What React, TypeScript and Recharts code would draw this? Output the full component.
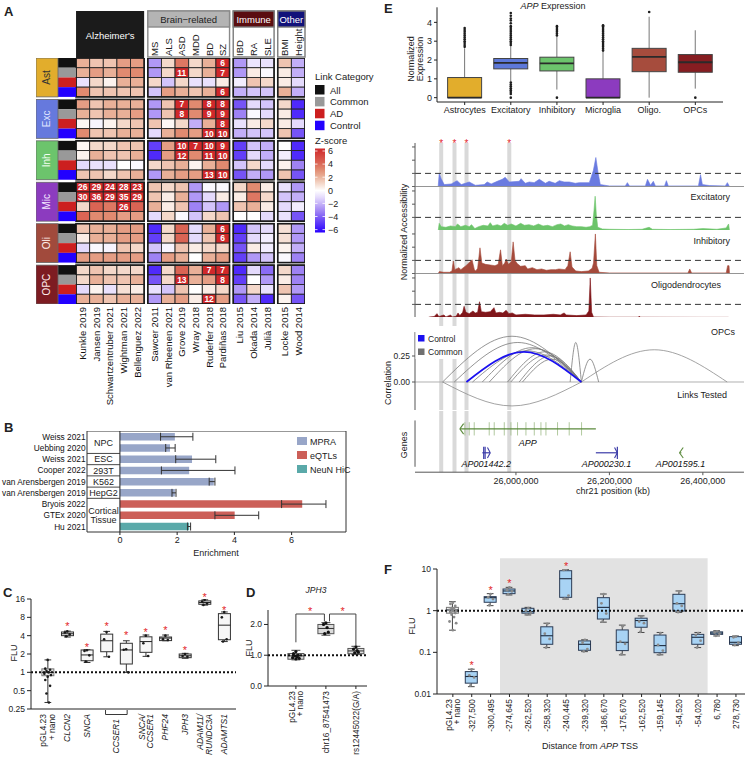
import React from 'react';
import {
  ScatterChart, Scatter, XAxis, YAxis, ComposedChart, Bar, BarChart, Cell, ErrorBar,
  ReferenceLine, ReferenceArea, ReferenceDot, AreaChart, Area, LineChart, Line,
} from 'recharts';

const FONT = '"Liberation Sans", Arial, Helvetica, sans-serif';
const INK = '#222';
const STAR = '#e3262b';

// ---------------- A: GWAS enrichment heatmap ----------------
const adStudies = ['Kunkle 2019', 'Jansen 2019', 'Schwartzentruber 2021', 'Wightman 2021', 'Bellenguez 2022'];
const brainStudies = ['Sawcer 2011', 'van Rheenen 2021', 'Grove 2019', 'Wray 2018', 'Ruderfer 2018', 'Pardiñas 2018'];
const immuneStudies = ['Liu 2015', 'Okada 2014', 'Julià 2018'];
const otherStudies = ['Locke 2015', 'Wood 2014'];
const traits = ['', '', '', '', '', 'MS', 'ALS', 'ASD', 'MDD', 'BD', 'SZ', 'IBD', 'RA', 'SLE', 'BMI', 'Height'];
const cellTypes = ['Ast', 'Exc', 'Inh', 'Mic', 'Oli', 'OPC'];
const linkCats = ['All', 'Common', 'AD', 'Control'];
const allStudies = [...adStudies, ...brainStudies, ...immuneStudies, ...otherStudies];

// rows: cell type x (All, Common, AD, Control); columns: studies
const zScores: number[][] = [
  [2, 1.5, 1.5, 2.5, 2.5, -2.5, 1, 3.5, 1, 2, 6, -2.5, -0.7, -0.8, 1.5, -2],
  [2, 2.5, 2, 3, 3, -2.5, 1, 11, 1, 2, 7, -2.5, 0.5, -0.2, 0.5, -2],
  [-0.8, 1, 0.3, 2, 2, 1, -1.5, 1, -0.8, -0.8, 0.5, -0.5, 1.5, 1, 0.5, -1],
  [3, 1.5, 1.5, 1.5, 1.5, -1.5, 2.5, 2, 1.5, 2, 6, -2, -1.5, -1.5, 2, -2],
  [2.5, 1.5, 2, 2, 2, -2.5, 1.5, 7, 3, 8, 8, -4, -1, -1.5, 1, -5],
  [2, 1.5, 2, 2, 2.5, -2.5, 1.5, 8, 3, 9, 9, -3, -0.2, -1, 0.5, -5],
  [0.2, -0.3, 0.3, 1, 1.5, 1.5, 0.2, 1, -2, 2, 8, -0.8, 0.5, 1, 0.5, -1],
  [3, 1.5, 1.5, 2, 2, -1, 2, 3, 2.5, 10, 10, -2, -1.5, -1.5, 1.5, -4],
  [0.2, 1, 1, 1.5, 1.5, -4.5, 2.5, 10, 7, 10, 9, -4.5, -1.5, -2, 0, -5],
  [0.3, 2, 1.5, 1.5, 2, -5, 2.5, 12, 3, 11, 10, -4.5, -1, -2, -0.5, -5],
  [-1, -0.8, -0.8, 0, -0.2, 1, 1.5, 2, 0.3, 2, 3, -1.5, 1, -1, 0.3, -3],
  [1.5, 1.5, 1, 1.5, 2, -2.5, 2, 2.5, 2.5, 13, 10, -4, -2, -2.5, 1.5, -4],
  [26, 29, 24, 28, 23, 1.5, 1, 1.5, -2.5, -0.2, -0.2, 1, 3, 0.5, -0.8, -2.5],
  [30, 36, 29, 35, 29, 1.5, 0.5, 2, -2.5, -1, 0.5, 0.5, 3.5, 1, -1.5, -2],
  [1, 4, 3.5, 26, 4, 2, 0.5, 1.5, -3, -1.5, -2.5, 1.5, 2, 0.5, -1, -0.5],
  [4, 3, 3, 2.5, 2.5, -1, 1, -0.2, -1.5, 1, 1.5, 0, 0, -1, -0.8, -4],
  [1.5, 2, 2, 2.5, 2.5, -5, 1, 4, -1, 2, 6, -5, -1.5, -1, 0.8, -2.5],
  [0.5, 2, 2, 2.5, 2.5, -4.5, 1, 4, -1, 1.5, 6, -4.5, -1, -0.5, 0.8, -2.5],
  [-1, -0.2, -0.3, 1.5, 1, -1.5, -0.3, 1.5, 0.5, 1, 1, -4, 0.5, -0.5, 0.3, -2],
  [2.5, 2.5, 2.5, 2.5, 2.5, -3, 2.5, 2, 0, 2, 2.5, -4.5, -2.5, -1.5, -0.2, -3],
  [1, 1.5, 1, 1, 1, -5, 1, 4, 2, 7, 7, -5, -1, -3.5, 1, -3],
  [1, 2, 1.5, 1.5, 2, -4, 1, 13, 2, 2.5, 8, -4.5, 0, -2.5, 0.5, -3],
  [-1, 0.3, -0.8, 0.8, 0.5, -0.8, -1.5, 1.5, 0, 0.5, 1, -2.5, 1, -0.8, 1.5, -2.5],
  [2, 2, 1.5, 2, 2, -2.5, 2, 2.5, 0.5, 12, 2.5, -4, -2, -5, 0.3, -4],
];

const typeColors = ['#e2ad2c', '#6679dd', '#6cc46c', '#8c3bbf', '#a14a3c', '#7d1c22'];
const typeText = ['#333', '#dfe3ff', '#f4fff4', '#f4e8ff', '#fff0ec', '#ffecec'];
const linkColors = ['#111111', '#999999', '#cc1f1f', '#2200ff'];

const posStops: [number, number[]][] = [[0, [255, 255, 255]], [1, [244, 216, 202]], [2, [233, 176, 152]], [3, [225, 138, 112]], [4, [218, 100, 84]], [6, [208, 40, 42]]];
const negStops: [number, number[]][] = [[0, [255, 255, 255]], [1, [228, 218, 252]], [2, [194, 174, 248]], [3, [158, 130, 244]], [4, [118, 84, 246]], [6, [40, 0, 255]]];
const zColor = (z: number) => {
  const stops = z >= 0 ? posStops : negStops;
  const a = Math.min(6, Math.abs(z));
  for (let k = 1; k < stops.length; k++) {
    if (a <= stops[k][0]) {
      const [z0, c0] = stops[k - 1];
      const [z1, c1] = stops[k];
      const t = (a - z0) / (z1 - z0);
      const c = c0.map((v, j) => Math.round(v + (c1[j] - v) * t));
      return `rgb(${c[0]},${c[1]},${c[2]})`;
    }
  }
  const c = stops[stops.length - 1][1];
  return `rgb(${c[0]},${c[1]},${c[2]})`;
};

const A_LEFT = 36, A_TOP = 58, A_W = 269, A_H = 246;
const COL_GAP = 0.27, ROW_GAP = 0.26;
const X_MIN = -2.94, X_MAX = 16 + 3 * COL_GAP, Y_MAX = 24 + 5 * ROW_GAP;
const UX = A_W / (X_MAX - X_MIN), UY = A_H / Y_MAX;
const colGroupOf = (c: number) => (c < 5 ? 0 : c < 11 ? 1 : c < 14 ? 2 : 3);
const colX = (c: number) => c + 0.5 + COL_GAP * colGroupOf(c);
const rowY = (r: number) => r + 0.5 + ROW_GAP * Math.floor(r / 4);
const hx = (u: number) => A_LEFT + (u - X_MIN) * UX;
const colGroups = [[0, 4], [5, 10], [11, 13], [14, 15]];

const heatCells = zScores.flatMap((row, r) => row.map((z, c) => ({ x: colX(c), y: rowY(r), z })));
const heatBlocks = cellTypes.flatMap((_, g) => colGroups.map(([a, b]) => ({
  x: (colX(a) + colX(b)) / 2, y: (rowY(4 * g) + rowY(4 * g + 3)) / 2, n: b - a + 1,
})));
const linkCells = zScores.map((_, r) => ({ x: X_MIN + 31 / UX, y: rowY(r), r }));
const typeCells = cellTypes.map((name, g) => ({ x: X_MIN + 11 / UX, y: (rowY(4 * g) + rowY(4 * g + 3)) / 2, g }));
const studyTicks = allStudies.map((_, c) => colX(c));

const HeatCell = (p: any) => {
  const { cx, cy, payload } = p;
  return (
    <g>
      <rect x={cx - UX / 2} y={cy - UY / 2} width={UX} height={UY} fill={zColor(payload.z)} stroke="#262626" strokeWidth={0.9} />
      {payload.z >= 5.5 && (
        <text x={cx} y={cy + 3.2} textAnchor="middle" fontSize={8.5} fontWeight="bold" fill="#fff" fontFamily={FONT}>{Math.round(payload.z)}</text>
      )}
    </g>
  );
};
const BlockFrame = (p: any) => (
  <rect x={p.cx - (p.payload.n * UX) / 2} y={p.cy - 2 * UY} width={p.payload.n * UX} height={4 * UY} fill="none" stroke="#1a1a1a" strokeWidth={1.6} />
);
const LinkCell = (p: any) => (
  <rect x={p.cx - 9} y={p.cy - UY / 2} width={18} height={UY} fill={linkColors[p.payload.r % 4]} />
);
const TypeCell = (p: any) => {
  const { cx, cy, payload } = p;
  return (
    <g>
      <rect x={cx - 11} y={cy - 2 * UY} width={22} height={4 * UY} fill={typeColors[payload.g]} stroke="#666" strokeWidth={0.8} />
      <text x={cx + 3.5} y={cy} transform={`rotate(-90 ${cx + 3.5} ${cy})`} textAnchor="middle" fontSize={10} fill={typeText[payload.g]} fontFamily={FONT}>{cellTypes[payload.g]}</text>
    </g>
  );
};
const StudyTick = (p: any) => {
  const idx = studyTicks.findIndex((t) => Math.abs(t - p.payload.value) < 1e-6);
  const x = p.x + 3.4;
  return (
    <text x={x} y={p.y} transform={`rotate(-90 ${x} ${p.y})`} textAnchor="end" fontSize={9.5} fill="#111" fontFamily={FONT}>{allStudies[idx]}</text>
  );
};

// ---------------- B: enrichment bars ----------------
const enrichStudies = ['Weiss 2021', 'Uebbing 2020', 'Weiss 2021', 'Cooper 2022', 'van Arensbergen 2019', 'van Arensbergen 2019', 'Bryois 2022', 'GTEx 2020', 'Hu 2021'];
const enrichValues = [1.92, 1.75, 2.52, 2.42, 3.28, 1.92, 6.37, 4.01, 2.42];
const enrichLow = [1.42, 1.6, 1.95, 1.45, 3.12, 1.82, 5.65, 3.32, 2.36];
const enrichHigh = [2.55, 1.93, 3.35, 4.02, 3.32, 1.96, 7.2, 4.85, 2.47];
const enrichKinds = ['MPRA', 'MPRA', 'MPRA', 'MPRA', 'MPRA', 'MPRA', 'eQTLs', 'eQTLs', 'NeuN HiC'];
const enrichGroups = [['NPC'], ['ESC'], ['293T'], ['K562'], ['HepG2'], ['Cortical', 'Tissue']];
const enrichGroupSpan = [2, 1, 1, 1, 1, 3];
const kindNames = ['MPRA', 'eQTLs', 'NeuN HiC'];
const kindColors: Record<string, string> = { MPRA: '#98a6c8', eQTLs: '#cc5f58', 'NeuN HiC': '#5aa9a9' };
const enrichData = enrichValues.map((v, i) => ({ i, v, err: [v - enrichLow[i], enrichHigh[i] - v], kind: enrichKinds[i] }));
const B_TOP = 431, B_PLOT_H = 101;
const EnrichTick = (p: any) => (
  <text x={p.x} y={p.y + 3.2} textAnchor="end" fontSize={8.3} fill="#111" fontFamily={FONT}>{enrichStudies[p.payload.value]}</text>
);

// ---------------- shared box-plot helpers ----------------
const toBoxes = (wlo: number[], q1: number[], med: number[], q3: number[], whi: number[]) =>
  wlo.map((_, i) => ({ i, range: [wlo[i], whi[i]], wlo: wlo[i], q1: q1[i], med: med[i], q3: q3[i], whi: whi[i] }));
const toDots = (lists: number[][]) => lists.flatMap((vs, i) => vs.map((v, k) => ({ i, v, k })));
const JIT = [0, -2.4, 2.4, -1.2, 1.2, -3.3, 3.3];
const dotShape = (fill: string, r: number, jitter = true) => (p: any) => (
  <circle cx={p.cx + (jitter ? JIT[(p.payload?.k ?? 0) % 7] : 0)} cy={p.cy} r={r} fill={fill} />
);
type BoxOpts = { log: boolean; caps: boolean; fill: (i: number) => string; stroke: (i: number) => string; whisker: string; median: string; medW: number };
const makeBoxShape = (o: BoxOpts) => (p: any) => {
  const { x, y, width, height, payload } = p;
  if (!payload || !Number.isFinite(y) || !Number.isFinite(height)) return <g />;
  const t = (v: number) => (o.log ? Math.log(v) : v);
  const top = Math.min(y, y + height), bot = Math.max(y, y + height);
  const hi = t(payload.whi), lo = t(payload.wlo);
  const py = (v: number) => top + ((bot - top) * (hi - t(v))) / (hi - lo);
  const cx = x + width / 2;
  const yq1 = py(payload.q1), yq3 = py(payload.q3), ym = py(payload.med);
  const cw = width * 0.28;
  const i = payload.i;
  return (
    <g>
      <line x1={cx} x2={cx} y1={top} y2={yq3} stroke={o.whisker} strokeWidth={1} />
      <line x1={cx} x2={cx} y1={yq1} y2={bot} stroke={o.whisker} strokeWidth={1} />
      {o.caps && <line x1={cx - cw} x2={cx + cw} y1={top} y2={top} stroke={o.whisker} strokeWidth={1} />}
      {o.caps && <line x1={cx - cw} x2={cx + cw} y1={bot} y2={bot} stroke={o.whisker} strokeWidth={1} />}
      <rect x={x} y={yq3} width={width} height={Math.max(yq1 - yq3, 0.6)} fill={o.fill(i)} stroke={o.stroke(i)} strokeWidth={1} />
      <line x1={x} x2={x + width} y1={ym} y2={ym} stroke={o.median} strokeWidth={o.medW} />
    </g>
  );
};
const StarDot = (p: any) => (
  <text x={p.cx} y={p.cy + 6} textAnchor="middle" fontSize={11} fill={STAR} fontFamily={FONT}>*</text>
);
const rotTick = (labels: string[][], italics: boolean[], fs: number, lh: number) => (p: any) => {
  const idx = Math.round(p.payload.value);
  const lines = labels[idx] || [];
  return (
    <g>
      {lines.map((ln, k) => {
        const x = p.x + fs * 0.36 + (k - (lines.length - 1) / 2) * lh;
        return (
          <text key={k} x={x} y={p.y} transform={`rotate(-90 ${x} ${p.y})`} textAnchor="end" fontSize={fs} fontStyle={italics[idx] ? 'italic' : 'normal'} fill={INK} fontFamily={FONT}>{ln}</text>
        );
      })}
    </g>
  );
};

// ---------------- C: luciferase, candidate regions ----------------
const cLabels = [['pGL4.23', '+ nano'], ['CLCN2'], ['SNCA'], [], [], ['SNCA/', 'CCSER1'], ['PHF24'], ['JPH3'], ['ADAM11/', 'RUNDC3A'], ['ADAMTS1']];
const cItalic = [false, true, true, true, true, true, true, true, true, true];
const cWlo = [0.32, 3.8, 1.45, 1.8, 1.0, 1.83, 3.3, 1.7, 12.7, 3.2];
const cQ1 = [0.88, 4.0, 1.55, 2.18, 1.37, 2.13, 3.32, 1.74, 13.1, 3.43];
const cMed = [1.0, 4.3, 1.93, 3.3, 2.33, 3.2, 3.65, 1.87, 14.0, 5.95];
const cQ3 = [1.14, 4.6, 2.33, 4.24, 3.0, 3.83, 3.8, 2.0, 14.9, 9.2];
const cWhi = [1.6, 4.75, 2.35, 4.7, 3.3, 4.1, 4.1, 2.05, 15.5, 9.8];
const cStarY: (number | null)[] = [null, 6.3, 2.8, 6.2, 4.4, 5.0, 5.4, 2.5, 18.4, 11.6];
const cDots = [
  [1.6, 1.15, 1.1, 1.05, 1.0, 0.95, 0.9, 0.85, 0.75, 0.6, 0.45, 0.32],
  [4.7, 4.5, 4.2, 3.9], [2.3, 2.25, 1.9, 1.5], [4.6, 3.5, 1.8], [2.4, 2.35, 1.0],
  [4.0, 3.0, 1.85], [4.0, 3.5, 3.4], [2.0, 1.85, 1.8], [15.5, 14.5, 13.5, 12.8], [9.8, 8.0, 3.5, 3.2],
];
const cBoxData = toBoxes(cWlo, cQ1, cMed, cQ3, cWhi);
const C_STEP = (240 - 31 - 4) / (9.6 + 0.85);
const cBase = rotTick(cLabels, cItalic, 8.5, 8.5);
const CTick = (p: any) => {
  const idx = Math.round(p.payload.value);
  if (idx === 3) {
    const x0 = p.x, x1 = p.x + C_STEP, y0 = p.y - 4, xm = (x0 + x1) / 2 + 3;
    return (
      <g>
        <path d={`M${x0 - 1},${y0} L${x0 - 1},${y0 + 4.5} L${x1 + 1},${y0 + 4.5} L${x1 + 1},${y0}`} fill="none" stroke={INK} strokeWidth={0.9} />
        <text x={xm} y={y0 + 9} transform={`rotate(-90 ${xm} ${y0 + 9})`} textAnchor="end" fontSize={8.5} fontStyle="italic" fill={INK} fontFamily={FONT}>CCSER1</text>
      </g>
    );
  }
  return cBase(p);
};

// ---------------- D: JPH3 variant ----------------
const dLabels = [['pGL4.23', '+ nano'], ['chr16_87541473'], ['rs12445022(G/A)']];
const dWlo = [0.85, 1.65, 1.02];
const dQ1 = [0.87, 1.7, 1.05];
const dMed = [0.98, 1.87, 1.14];
const dQ3 = [1.055, 2.0, 1.22];
const dWhi = [1.16, 2.06, 1.29];
const dDots = [[1.12, 1.05, 1.0, 0.98, 0.95, 0.92, 0.9, 0.88], [2.05, 2.0, 1.75, 1.7, 1.9], [1.27, 1.2, 1.1, 1.08, 1.15]];
const dBrackets = [
  { from: 0, to: 0.95, top: 2.34, lowFrom: 1.42, lowTo: 2.1 },
  { from: 1.12, to: 2, top: 2.34, lowFrom: 2.1, lowTo: 1.33 },
];
const dBoxData = toBoxes(dWlo, dQ1, dMed, dQ3, dWhi);

// ---------------- E: APP expression + tracks ----------------
const eNames = ['Astrocytes', 'Excitatory', 'Inhibitory', 'Microglia', 'Oligo.', 'OPCs'];
const eWlo = [0, 0.85, 0.43, 0, 0, 0.48];
const eQ1 = [0, 1.53, 1.42, 0, 1.38, 1.35];
const eMed = [0, 1.85, 1.82, 0, 2.17, 1.88];
const eQ3 = [1.07, 2.08, 2.15, 1.0, 2.62, 2.29];
const eWhi = [2.62, 2.75, 3.25, 2.45, 4.3, 3.58];
const eOutliers = [
  [2.7, 2.8, 2.9, 3.0, 3.1, 3.2, 3.3, 3.4, 3.5, 3.6, 3.7],
  [0, 0.2, 0.3, 0.4, 0.5, 0.6, 0.7, 0.8, 2.8, 2.9, 3.0, 3.1, 3.2, 3.3, 3.4, 3.5, 3.6, 3.7, 3.8, 3.95, 4.1, 4.2, 4.35, 4.5],
  [0, 3.3, 3.4, 3.5, 3.6, 3.7, 3.8],
  [2.5, 2.6, 2.7, 2.8, 2.9, 3.0, 3.1, 3.2, 3.3, 3.4, 3.5, 3.6, 3.7, 3.8, 3.85],
  [4.55],
  [0],
];
const eFills = ['#e2ad2c', '#5d78d9', '#6cc46c', '#8c3bbf', '#a64c3d', '#861d21'];
const eBoxData = toBoxes(eWlo, eQ1, eMed, eQ3, eWhi);
const eOutData = eOutliers.flatMap((vs, i) => vs.map((v) => ({ i, v })));

const GEN_DOMAIN: [number, number] = [25784, 26488];
const highlights = [25840, 25868.5, 25894.2, 25985.7];
const excTrack = [
  [25833.6, 0], [25835.8, 1.0], [25840, 0.6], [25846.5, 0.15], [25861.5, 0.2], [25874, 0.45], [25883, 0.15], [25900, 0.35],
  [25913, 0.1], [25932, 0.15], [25938.5, 0.35], [25947, 0.2], [25960, 0.4], [25970.7, 0.55], [25977, 0.7], [25985.7, 0.35],
  [26007, 0.4], [26011, 0.6], [26020, 0.25], [26028.5, 0.35], [26039, 0.3], [26050, 0.55], [26063, 0.25], [26071, 0.4],
  [26084, 0.25], [26093, 0.45], [26103, 0.35], [26114, 0.35], [26127, 0.25], [26135.5, 0.3], [26157, 0.3], [26165.5, 1.2],
  [26171, 2.2], [26176, 1.0], [26180.5, 0.15], [26200, 0.05], [26234, 0.05], [26238.5, 0.3], [26243, 0.05], [26277, 0.05],
  [26281.5, 0.55], [26288, 0.1], [26294, 0.4], [26298.5, 0.05], [26318, 0.05], [26322, 0.45], [26326, 0.05], [26390.5, 0.05],
  [26395, 0.9], [26399, 0.15], [26414, 0.08], [26448, 0.05], [26452.5, 0.3], [26457, 0],
];
const inhTrack = [
  [25833.6, 0], [25835.8, 0.55], [25840, 0.3], [25850, 0.25], [25860, 0.35], [25870, 0.3], [25875, 0.5], [25882, 0.3],
  [25892, 0.4], [25900, 0.3], [25905, 0.45], [25912, 0.15], [25920, 0.3], [25930, 0.4], [25940, 0.35], [25945, 0.6],
  [25950, 0.35], [25960, 0.45], [25968, 0.35], [25975, 0.55], [25982, 0.4], [25990, 0.5], [26000, 0.35], [26010, 0.55],
  [26018, 0.4], [26028, 0.45], [26038, 0.35], [26048, 0.5], [26058, 0.35], [26068, 0.4], [26078, 0.3], [26088, 0.45],
  [26096, 0.5], [26104, 0.35], [26112, 0.45], [26120, 0.35], [26130, 0.3], [26140, 0.3], [26150, 0.25], [26158, 0.3],
  [26164, 0.4], [26167, 1.5], [26169.5, 2.6], [26172, 1.2], [26175, 0.25], [26185, 0.12], [26200, 0.1], [26240, 0.08],
  [26270, 0.1], [26285, 0.25], [26292, 0.1], [26330, 0.08], [26380, 0.1], [26400, 0.15], [26430, 0.1], [26450, 0.2],
  [26455, 0.5], [26457, 0],
];
const oliTrack = [
  [25833.6, 0], [25836, 0.15], [25845, 0.1], [25858, 0.1], [25863, 0.2], [25866, 0.95], [25869, 0.3], [25878, 0.45],
  [25882, 0.3], [25893, 0.6], [25899, 0.8], [25906, 1.05], [25911, 0.3], [25914, 0.2], [25918, 0.4], [25923, 1.95],
  [25927, 0.8], [25935, 0.7], [25945, 0.65], [25955, 0.6], [25962, 0.7], [25967, 1.8], [25971, 0.6], [25976, 0.8],
  [25979, 1.1], [25984, 0.7], [25990, 0.9], [25994, 2.4], [25998, 1.0], [26003, 0.75], [26010, 0.55], [26020, 0.6],
  [26025, 0.35], [26035, 0.45], [26045, 0.3], [26055, 0.35], [26065, 0.25], [26075, 0.3], [26085, 0.3], [26092, 0.35],
  [26105, 0.3], [26111, 0.6], [26116, 1.65], [26120, 0.5], [26128, 0.2], [26140, 0.15], [26155, 0.2], [26163, 0.4],
  [26166, 0.8], [26170, 3.0], [26173, 0.6], [26178, 0.1], [26200, 0.05], [26300, 0.05], [26368, 0.05], [26372, 0.35],
  [26376, 0.05], [26450, 0.05], [26453, 0.6], [26456, 0.6], [26457, 0],
];
const opcTrack = [
  [25812, 0], [25815, 0.05], [25825, 0.08], [25831, 0.3], [25835, 0.08], [25846, 0.2], [25850, 0.05], [25860, 0.2],
  [25864, 0.05], [25872, 0.1], [25876, 0.35], [25880, 0.15], [25886, 0.4], [25889, 0.85], [25893, 0.4], [25900, 0.3],
  [25908, 0.5], [25913, 0.35], [25918, 0.4], [25922, 1.2], [25926, 0.45], [25935, 0.4], [25945, 0.45], [25953, 0.75],
  [25957, 0.35], [25965, 0.4], [25972, 0.35], [25979, 0.55], [25985, 0.3], [25992, 0.35], [26000, 0.2], [26020, 0.25],
  [26040, 0.2], [26060, 0.2], [26080, 0.25], [26095, 0.2], [26103, 0.35], [26108, 0.2], [26130, 0.15], [26150, 0.2],
  [26156, 0.5], [26159, 3.0], [26162, 0.4], [26166, 0.05], [26200, 0.03], [26262, 0.03], [26264, 0.12], [26266, 0.03],
  [26400, 0.02], [26455, 0.02],
];
const trackColors = ['#6a7be0', '#6cc46a', '#a54a3b', '#80161a'];
const trackData = [excTrack, inhTrack, oliTrack, opcTrack].map((t) => t.map(([kb, v]) => ({ kb, v })));

// links: [start kb, end kb, correlation]
const commonLinks = [
  [25843, 26140, 0.44], [25868, 26140, 0.38], [25907, 26140, 0.3], [25928, 26140, 0.33], [25943, 26140, 0.32],
  [25982, 26140, 0.29], [25989, 26140, 0.26], [26007, 26140, 0.25], [26014, 26140, 0.22], [26116, 26140, 0.38], [26140, 26177, 0.22],
];
const controlLinks = [[25894, 26140, 0.29]];
const testedLinks = [[26140, 26452, 0.31], [25843, 26140, -0.23]];
const arc = (l: number[]) => [{ kb: l[0], r: 0 }, { kb: (l[0] + l[1]) / 2, r: l[2] }, { kb: l[1], r: 0 }];

const geneNames = ['APP', 'AP001442.2', 'AP000230.1', 'AP001595.1'];
const geneStarts = [25880, 25928, 26171, 26350];
const geneEnds = [26171, 25945, 26217, 26354];
const geneStrands = ['-', '+', '+', '-'];
const appExons = [25890.7, 25900, 25910.7, 25942.8, 25953.5, 25975, 25989.3, 26003.4, 26021.4, 26039.2, 26053.5, 26064.2, 26089, 26114, 26140.4];
const geneLane = [2.48, 1.11, 1.11, 1.11];
const geneLabelY = [1.66, 0.44, 0.44, 0.44];
const geneColors = ['#5b8a3c', '#3b3ba8', '#3b3ba8', '#5b8a3c'];
const geneLabels = geneNames.map((name, g) => ({ kb: (geneStarts[g] + geneEnds[g]) / 2, y: geneLabelY[g], g }));

// ---------------- F: APP candidate enhancers ----------------
const fNames = ['pGL4.23', '-327,500', '-300,495', '-274,645', '-262,520', '-258,320', '-240,445', '-239,320', '-186,670', '-175,670', '-162,520', '-159,145', '-54,520', '-54,020', '6,780', '278,730'];
const fLabels = fNames.map((n, i) => (i === 0 ? ['pGL4.23', '+ nano'] : [n]));
const fWlo = [0.34, 0.015, 1.32, 2.38, 0.79, 0.13, 1.9, 0.104, 0.53, 0.087, 0.3, 0.087, 0.91, 0.13, 0.247, 0.145];
const fQ1 = [0.87, 0.0182, 1.59, 2.56, 0.87, 0.156, 2.09, 0.112, 0.63, 0.11, 0.4, 0.098, 0.98, 0.156, 0.27, 0.156];
const fMed = [1.04, 0.0263, 2.05, 2.97, 0.95, 0.25, 5.85, 0.156, 1.2, 0.174, 0.58, 0.145, 1.47, 0.23, 0.29, 0.174];
const fQ3 = [1.2, 0.0345, 2.17, 3.31, 1.14, 0.41, 9.1, 0.188, 2.05, 0.345, 0.66, 0.26, 2.47, 0.27, 0.31, 0.238];
const fWhi = [1.64, 0.0394, 2.56, 3.63, 1.2, 0.5, 9.84, 0.2, 2.51, 0.45, 0.75, 0.3, 2.97, 0.3, 0.33, 0.247];
const fStarY: (number | null)[] = [null, 0.055, 3.44, 5.15, null, null, 13.4, null, null, null, null, null, null, null, null, null];
const fDots = [
  [1.55, 1.45, 1.3, 1.15, 1.1, 1.05, 1.0, 0.97, 0.92, 0.88, 0.8, 0.7, 0.55, 0.5, 0.34],
  [0.039, 0.028, 0.025, 0.016], [2.5, 2.1, 1.9, 1.35], [3.6, 3.1, 2.9, 2.5], [1.15, 1.0, 0.9, 0.8],
  [0.48, 0.28, 0.21, 0.13], [9.8, 9.5, 2.3, 1.95], [0.2, 0.17, 0.12, 0.105], [2.5, 1.5, 0.85, 0.55],
  [0.42, 0.18, 0.16, 0.09], [0.72, 0.55, 0.5, 0.31], [0.29, 0.15, 0.11, 0.088], [2.9, 1.5, 1.3, 0.92],
  [0.29, 0.26, 0.19, 0.13], [0.32, 0.3, 0.28, 0.25], [0.24, 0.23, 0.17, 0.15],
];
const fBoxData = toBoxes(fWlo, fQ1, fMed, fQ3, fWhi);

// ---------------- layout constants ----------------
const E_LEFT = 380, E_W = 368;
const TRACK_TOP = 143, TRACK_H = 43.6;
const LINK_TOP = 317.4, LINK_H = 93.1;
const GENE_TOP = 410.5, GENE_PLOT_H = 61.2;

const tickStyle = { fontSize: 8.5, fill: INK, fontFamily: FONT };
const axisStroke = { stroke: INK };

const StarAbove = (props: any) => {
  const vb = props.viewBox || {};
  return <text x={vb.x + vb.width / 2} y={vb.y + 4} textAnchor="middle" fontSize={10} fill={STAR} fontFamily={FONT}>*</text>;
};
const BracketStar = (props: any) => {
  const vb = props.viewBox || {};
  return <text x={vb.x + (vb.width || 0) / 2} y={vb.y + 0.5} textAnchor="middle" fontSize={11} fill={STAR} fontFamily={FONT}>*</text>;
};
const GeneLabel = (p: any) => (
  <text x={p.cx} y={p.cy + 3} textAnchor="middle" fontSize={9} fontStyle="italic" fill="#111" fontFamily={FONT}>{geneNames[p.payload.g]}</text>
);

const Overlay = () => {
  const T = (x: number, y: number, s: React.ReactNode, o: any = {}) => (
    <text x={x} y={y} fontSize={o.size ?? 9} textAnchor={o.anchor ?? 'start'} fill={o.fill ?? INK}
      fontWeight={o.bold ? 'bold' : 'normal'} fontStyle={o.italic ? 'italic' : 'normal'}
      transform={o.rot ? `rotate(${o.rot} ${x} ${y})` : undefined} fontFamily={FONT}>{s}</text>
  );
  const headers = [
    { g: 1, title: 'Brain−related', fill: '#b4b4b4', color: '#222', border: '#8a8a8a' },
    { g: 2, title: 'Immune', fill: '#5a0d10', color: '#fff', border: '#7a7a7a' },
    { g: 3, title: 'Other', fill: '#12127a', color: '#fff', border: '#7a7a7a' },
  ];
  const zy = (z: number) => 151 + (6 - z) * 6.55;
  const gradStops = [6, 5, 4, 3, 2, 1, 0, -1, -2, -3, -4, -5, -6];
  const bBand = B_PLOT_H / 9;
  let acc = 0;
  const groupBounds = enrichGroupSpan.map((s) => { const a = acc; acc += s; return [a, acc]; });
  return (
    <svg width={748} height={759} style={{ position: 'absolute', left: 0, top: 0, pointerEvents: 'none' }}>
      <defs>
        <linearGradient id="zgrad" x1="0" y1="0" x2="0" y2="1">
          {gradStops.map((z) => <stop key={z} offset={(6 - z) / 12} stopColor={zColor(z)} />)}
        </linearGradient>
      </defs>
      {/* panel letters */}
      {T(4, 16, 'A', { size: 13, bold: true })}
      {T(4, 432, 'B', { size: 13, bold: true })}
      {T(3, 597, 'C', { size: 13, bold: true })}
      {T(246, 597, 'D', { size: 13, bold: true })}
      {T(384, 13, 'E', { size: 13, bold: true })}
      {T(384, 574, 'F', { size: 13, bold: true })}

      {/* A headers */}
      <rect x={hx(colX(0) - 0.5)} y={11} width={5 * UX} height={47} fill="#1b1b1b" />
      {T((hx(colX(0) - 0.5) + hx(colX(4) + 0.5)) / 2, 39, "Alzheimer's", { anchor: 'middle', fill: '#fff', size: 9.5 })}
      {headers.map((h) => {
        const [a, b] = colGroups[h.g];
        const x0 = hx(colX(a) - 0.5), x1 = hx(colX(b) + 0.5);
        return (
          <g key={h.g}>
            <rect x={x0} y={11} width={x1 - x0} height={46} fill="#fff" stroke={h.border} strokeWidth={1.4} />
            <rect x={x0} y={11} width={x1 - x0} height={16} fill={h.fill} stroke={h.border} strokeWidth={1.4} />
            {T((x0 + x1) / 2, 22.5, h.title, { anchor: 'middle', fill: h.color, size: 9.5 })}
          </g>
        );
      })}
      {traits.map((t, c) => (t ? <g key={c}>{T(hx(colX(c)) + 3.4, 56, t, { rot: -90, size: 9.5 })}</g> : null))}

      {/* A legends */}
      {T(315, 80, 'Link Category', { size: 9.5 })}
      {linkCats.map((n, k) => (
        <g key={n}>
          <rect x={315} y={85 + k * 11.9} width={9.5} height={9.5} fill={linkColors[k]} />
          {T(330, 93.5 + k * 11.9, n, { size: 9.5 })}
        </g>
      ))}
      {T(315, 143.5, 'Z-score', { size: 9.5 })}
      <rect x={315} y={148.5} width={10} height={84} fill="url(#zgrad)" />
      {[6, 4, 2, 0, -2, -4, -6].map((z) => (
        <g key={z}>
          <line x1={315} x2={317.5} y1={zy(z)} y2={zy(z)} stroke="#fff" strokeWidth={0.8} />
          <line x1={322.5} x2={325} y1={zy(z)} y2={zy(z)} stroke="#fff" strokeWidth={0.8} />
          {T(328, zy(z) + 3.3, z < 0 ? `−${-z}` : String(z), { size: 9 })}
        </g>
      ))}

      {/* B group boxes + legend */}
      {groupBounds.map(([a, b], k) => (
        <g key={k}>
          {k > 0 && <line x1={87} x2={120} y1={B_TOP + a * bBand} y2={B_TOP + a * bBand} stroke="#333" strokeWidth={0.9} />}
          {enrichGroups[k].map((ln, j) =>
            <g key={j}>{T(103.5, B_TOP + ((a + b) / 2) * bBand + 3.3 + (j - (enrichGroups[k].length - 1) / 2) * 9.5, ln, { anchor: 'middle', size: 9 })}</g>)}
        </g>
      ))}
      {kindNames.map((n, k) => (
        <g key={n}>
          <rect x={297} y={437 + k * 14} width={10} height={8} fill={kindColors[n]} />
          {T(310, 444.5 + k * 14, n, { size: 9 })}
        </g>
      ))}
      {T(216, 556, 'Enrichment', { anchor: 'middle', size: 9 })}

      {/* C / D labels */}
      {T(17, 653, 'FLU', { anchor: 'middle', rot: -90, size: 9 })}
      {T(252, 648, 'FLU', { anchor: 'middle', rot: -90, size: 9 })}
      {T(316, 593, 'JPH3', { anchor: 'middle', italic: true, size: 8.5 })}

      {/* E labels */}
      <text x={553} y={9} textAnchor="middle" fontSize={9} fill={INK} fontFamily={FONT}>
        <tspan fontStyle="italic">APP</tspan> Expression
      </text>
      {T(414, 59, 'Normalized', { anchor: 'middle', rot: -90, size: 9 })}
      {T(423, 59, 'Expression', { anchor: 'middle', rot: -90, size: 9 })}
      {T(407, 232, 'Normalized Accessibility', { anchor: 'middle', rot: -90, size: 9 })}
      {T(730, 199.5, 'Excitatory', { anchor: 'end', size: 9 })}
      {T(730, 243.5, 'Inhibitory', { anchor: 'end', size: 9 })}
      {T(721, 288, 'Oligodendrocytes', { anchor: 'end', size: 9 })}
      {T(735, 335, 'OPCs', { anchor: 'end', size: 9 })}
      {T(727, 397.5, 'Links Tested', { anchor: 'end', size: 9 })}
      {T(391, 383, 'Correlation', { anchor: 'middle', rot: -90, size: 9 })}
      <rect x={415.5} y={326} width={47} height={33} fill="#fff" />
      <rect x={418} y={335} width={6.5} height={6.5} fill="#1a10f0" />
      <rect x={418} y={348.5} width={6.5} height={6.5} fill="#707070" />
      {T(428, 341.5, 'Control', { size: 8.5 })}
      {T(428, 355, 'Common', { size: 8.5 })}
      {T(407, 445, 'Genes', { anchor: 'middle', rot: -90, size: 9 })}
      {T(613, 494, 'chr21 position (kb)', { anchor: 'middle', size: 9 })}

      {/* F labels */}
      {T(415, 626, 'FLU', { anchor: 'middle', rot: -90, size: 9 })}
      <text x={590} y={749} textAnchor="middle" fontSize={9} fill={INK} fontFamily={FONT}>
        Distance from <tspan fontStyle="italic">APP</tspan> TSS
      </text>
    </svg>
  );
};

const cBoxShape = makeBoxShape({ log: true, caps: true, fill: (i) => (i === 0 ? '#e4e4e4' : '#f6f6f6'), stroke: (i) => (i === 0 ? '#777' : '#333'), whisker: '#333', median: '#222', medW: 1 });
const dBoxShape = makeBoxShape({ log: false, caps: true, fill: () => '#dcdcdc', stroke: () => '#555', whisker: '#444', median: '#333', medW: 1 });
const eBoxShape = makeBoxShape({ log: false, caps: false, fill: (i) => eFills[i], stroke: () => '#444', whisker: '#777', median: '#2a2a2a', medW: 1.8 });
const fBoxShape = makeBoxShape({ log: true, caps: true, fill: (i) => (i === 0 ? '#f0f0f0' : '#a8d3f4'), stroke: (i) => (i === 0 ? '#777' : '#2c3c55'), whisker: '#444', median: '#1d2a3d', medW: 1.1 });

export default function App() {
  return (
    <div style={{ position: 'absolute', left: 0, top: 0, width: 748, height: 759, background: '#fff', fontFamily: FONT, overflow: 'hidden' }}>
      {/* A */}
      <div style={{ position: 'absolute', left: A_LEFT, top: A_TOP }}>
        <ScatterChart width={A_W} height={A_H + 112} margin={{ top: 0, right: 0, bottom: 0, left: 0 }}>
          <XAxis type="number" dataKey="x" domain={[X_MIN, X_MAX]} allowDataOverflow ticks={studyTicks} interval={0}
            tick={StudyTick} tickLine={false} axisLine={false} tickSize={0} tickMargin={3} height={112} />
          <YAxis type="number" dataKey="y" domain={[0, Y_MAX]} allowDataOverflow reversed hide />
          <Scatter data={heatCells} shape={HeatCell} isAnimationActive={false} />
          <Scatter data={heatBlocks} shape={BlockFrame} isAnimationActive={false} />
          <Scatter data={linkCells} shape={LinkCell} isAnimationActive={false} />
          <Scatter data={typeCells} shape={TypeCell} isAnimationActive={false} />
        </ScatterChart>
      </div>

      {/* B */}
      <div style={{ position: 'absolute', left: 0, top: B_TOP }}>
        <BarChart layout="vertical" width={347} height={B_PLOT_H + 28} data={enrichData} margin={{ top: 0, right: 1, bottom: 0, left: 0 }}>
          <XAxis type="number" domain={[-1.15, 7.9]} allowDataOverflow ticks={[0, 2, 4, 6]} axisLine={false}
            tickSize={3} tickLine={axisStroke} tick={{ ...tickStyle, fontSize: 9 }} height={28} />
          <YAxis type="category" dataKey="i" width={87} interval={0} tickLine={false} axisLine={false} tickSize={0} tickMargin={1.5} tick={EnrichTick} />
          <ReferenceArea x1={-1.15} x2={7.9} fill="none" stroke="#333" strokeWidth={1} />
          <ReferenceLine x={0} stroke="#222" strokeWidth={1} />
          <Bar dataKey="v" barSize={7.5} isAnimationActive={false}>
            {enrichData.map((d) => <Cell key={d.i} fill={kindColors[d.kind]} />)}
            <ErrorBar dataKey="err" direction="x" width={4} stroke="#333" strokeWidth={1} />
          </Bar>
        </BarChart>
      </div>

      {/* C */}
      <div style={{ position: 'absolute', left: 0, top: 586.7 }}>
        <ComposedChart width={240} height={170} data={cBoxData} margin={{ top: 12, right: 4, bottom: 0, left: 0 }}>
          <XAxis type="number" dataKey="i" domain={[-0.85, 9.6]} allowDataOverflow ticks={[0, 1, 2, 3, 4, 5, 6, 7, 8, 9]} interval={0}
            tick={CTick} tickLine={false} tickSize={0} tickMargin={5} axisLine={axisStroke} height={48} />
          <YAxis type="number" scale="log" domain={[0.25, 16]} allowDataOverflow ticks={[0.25, 0.5, 1, 2, 4, 8, 16]} interval={0}
            width={31} tick={tickStyle} tickSize={4} tickLine={axisStroke} axisLine={axisStroke} />
          <ReferenceLine y={1} stroke="#111" strokeWidth={2} strokeDasharray="2 2" />
          <Bar dataKey="range" barSize={12} shape={cBoxShape} isAnimationActive={false} />
          <Scatter data={toDots(cDots)} dataKey="v" shape={dotShape('#1a1a1a', 1.3)} isAnimationActive={false} />
          {cStarY.map((s, i) => (s == null ? null : <ReferenceDot key={i} x={i} y={s} r={0} ifOverflow="visible" shape={StarDot} />))}
        </ComposedChart>
      </div>

      {/* D */}
      <div style={{ position: 'absolute', left: 236, top: 596 }}>
        <ComposedChart width={132} height={163} data={dBoxData} margin={{ top: 14, right: 1, bottom: 0, left: 0 }}>
          <XAxis type="number" dataKey="i" domain={[-0.93, 2.37]} allowDataOverflow ticks={[0, 1, 2]} interval={0}
            tick={rotTick(dLabels, [false, false, false], 8.3, 8.3)} tickSize={3} tickLine={axisStroke} tickMargin={2} axisLine={axisStroke} height={73} />
          <YAxis type="number" domain={[0, 2.47]} allowDataOverflow ticks={[0, 1, 2]} tickFormatter={(v: number) => v.toFixed(1)}
            width={32} tick={tickStyle} tickSize={4} tickLine={axisStroke} axisLine={axisStroke} />
          <ReferenceLine y={1} stroke="#111" strokeWidth={2} strokeDasharray="2 2" />
          {dBrackets.map((b, k) => (
            <React.Fragment key={k}>
              <ReferenceLine segment={[{ x: b.from, y: b.lowFrom }, { x: b.from, y: b.top }]} stroke="#444" />
              <ReferenceLine segment={[{ x: b.from, y: b.top }, { x: b.to, y: b.top }]} stroke="#444" label={BracketStar} />
              <ReferenceLine segment={[{ x: b.to, y: b.top }, { x: b.to, y: b.lowTo }]} stroke="#444" />
            </React.Fragment>
          ))}
          <Bar dataKey="range" barSize={16} shape={dBoxShape} isAnimationActive={false} />
          <Scatter data={toDots(dDots)} dataKey="v" shape={dotShape('#111', 1.6)} isAnimationActive={false} />
        </ComposedChart>
      </div>

      {/* E: expression */}
      <div style={{ position: 'absolute', left: 413, top: 0 }}>
        <ComposedChart width={310} height={124} data={eBoxData} margin={{ top: 7.3, right: 0, bottom: 0, left: 0 }}>
          <XAxis type="number" dataKey="i" domain={[-0.6, 5.6]} allowDataOverflow ticks={[0, 1, 2, 3, 4, 5]} interval={0}
            tickFormatter={(v: number) => eNames[v]} tick={{ ...tickStyle, fontSize: 9 }} tickSize={3} tickLine={axisStroke} axisLine={axisStroke} height={22} />
          <YAxis type="number" domain={[-0.23, 4.8]} allowDataOverflow ticks={[0, 1, 2, 3, 4]} width={24}
            tick={{ ...tickStyle, fontSize: 9 }} tickSize={3} tickLine={axisStroke} axisLine={axisStroke} />
          <Bar dataKey="range" barSize={34} shape={eBoxShape} isAnimationActive={false} />
          <Scatter data={eOutData} dataKey="v" shape={dotShape('#1e1e1e', 1.3, false)} isAnimationActive={false} />
        </ComposedChart>
      </div>

      {/* E: accessibility tracks */}
      {trackData.map((tr, i) => (
        <div key={i} style={{ position: 'absolute', left: E_LEFT, top: TRACK_TOP + i * TRACK_H - (i === 0 ? 8 : 0) }}>
          <AreaChart width={E_W} height={TRACK_H + (i === 0 ? 8 : 0)} data={tr} margin={{ top: i === 0 ? 8 : 0, right: 4, bottom: 0, left: 0 }}>
            <XAxis type="number" dataKey="kb" domain={GEN_DOMAIN} allowDataOverflow hide />
            <YAxis type="number" domain={[0, 3.3]} allowDataOverflow ticks={[0, 1, 2, 3]} width={35} tickFormatter={() => ''}
              tickSize={3} tickLine={{ stroke: '#555' }} axisLine={{ stroke: '#555' }} />
            {highlights.map((h) => (
              <ReferenceArea key={h} x1={h - 4.3} x2={h + 4.3} fill="#c4c4c4" fillOpacity={0.65} stroke="none" label={i === 0 ? StarAbove : undefined} />
            ))}
            <ReferenceLine y={1} stroke="#333" strokeDasharray="6 4" />
            <Area type="linear" dataKey="v" stroke={trackColors[i]} strokeWidth={0.6} fill={trackColors[i]} fillOpacity={1} isAnimationActive={false} />
            <ReferenceLine y={0} stroke="#8a8a8a" />
          </AreaChart>
        </div>
      ))}

      {/* E: links */}
      <div style={{ position: 'absolute', left: E_LEFT, top: LINK_TOP }}>
        <LineChart width={E_W} height={LINK_H} margin={{ top: 0, right: 4, bottom: 0, left: 0 }}>
          <XAxis type="number" dataKey="kb" domain={GEN_DOMAIN} allowDataOverflow hide />
          <YAxis type="number" domain={[-0.27, 0.625]} allowDataOverflow ticks={[-0.25, 0, 0.25]} width={35}
            tickFormatter={(v: number) => (v < 0 ? `−${(-v).toFixed(2)}` : v.toFixed(2))}
            tick={tickStyle} tickSize={3} tickLine={{ stroke: '#555' }} axisLine={false} />
          {highlights.map((h) => (
            <ReferenceArea key={h} x1={h - 4.3} x2={h + 4.3} fill="#c4c4c4" fillOpacity={0.65} stroke="none" />
          ))}
          <ReferenceLine y={0} stroke="#b0b0b0" />
          <ReferenceLine segment={[{ x: GEN_DOMAIN[0], y: -0.27 }, { x: GEN_DOMAIN[0], y: 0.48 }]} stroke="#555" />
          {testedLinks.map((l, k) => (
            <Line key={`t${k}`} data={arc(l)} dataKey="r" type="natural" dot={false} stroke="#8c8c8c" strokeWidth={0.8} isAnimationActive={false} />
          ))}
          {commonLinks.map((l, k) => (
            <Line key={`c${k}`} data={arc(l)} dataKey="r" type="natural" dot={false} stroke="#7a7a7a" strokeWidth={0.8} isAnimationActive={false} />
          ))}
          {controlLinks.map((l, k) => (
            <Line key={`b${k}`} data={arc(l)} dataKey="r" type="natural" dot={false} stroke="#1a10f0" strokeWidth={1.8} isAnimationActive={false} />
          ))}
        </LineChart>
      </div>

      {/* E: genes */}
      <div style={{ position: 'absolute', left: E_LEFT, top: GENE_TOP }}>
        <ComposedChart width={E_W} height={GENE_PLOT_H + 24} margin={{ top: 0, right: 4, bottom: 0, left: 0 }}>
          <XAxis type="number" dataKey="kb" domain={GEN_DOMAIN} allowDataOverflow ticks={[26000, 26200, 26400]}
            tickFormatter={(v: number) => (v * 1000).toLocaleString('en-US')} tick={{ ...tickStyle, fontSize: 9 }}
            tickSize={3} tickLine={{ stroke: '#555' }} axisLine={{ stroke: '#555' }} height={24} />
          <YAxis type="number" domain={[0, 3.5]} allowDataOverflow width={35} tick={false} tickLine={false} axisLine={false} />
          {highlights.map((h) => (
            <ReferenceArea key={h} x1={h - 4.3} x2={h + 4.3} fill="#c4c4c4" fillOpacity={0.65} stroke="none" />
          ))}
          <ReferenceLine segment={[{ x: GEN_DOMAIN[0], y: 0.31 }, { x: GEN_DOMAIN[0], y: 2.96 }]} stroke="#555" />
          {appExons.map((e) => (
            <ReferenceLine key={e} segment={[{ x: e, y: geneLane[0] - 0.38 }, { x: e, y: geneLane[0] + 0.38 }]} stroke="#9dbb86" strokeWidth={0.8} />
          ))}
          {geneNames.map((n, g) => (
            <ReferenceLine key={n} segment={[{ x: geneStarts[g], y: geneLane[g] }, { x: geneEnds[g], y: geneLane[g] }]} stroke={geneColors[g]} strokeWidth={1.2} />
          ))}
          {geneNames.map((n, g) => {
            const tip = geneStrands[g] === '-' ? geneStarts[g] : geneEnds[g];
            const back = geneStrands[g] === '-' ? tip + 8 : tip - 6;
            return (
              <React.Fragment key={`a${n}`}>
                <ReferenceLine segment={[{ x: tip, y: geneLane[g] }, { x: back, y: geneLane[g] + 0.3 }]} stroke={geneColors[g]} strokeWidth={1.1} />
                <ReferenceLine segment={[{ x: tip, y: geneLane[g] }, { x: back, y: geneLane[g] - 0.3 }]} stroke={geneColors[g]} strokeWidth={1.1} />
              </React.Fragment>
            );
          })}
          <ReferenceLine segment={[{ x: geneEnds[2], y: geneLane[2] - 0.35 }, { x: geneEnds[2], y: geneLane[2] + 0.35 }]} stroke={geneColors[2]} strokeWidth={1.2} />
          <ReferenceLine segment={[{ x: 25931, y: geneLane[1] - 0.35 }, { x: 25931, y: geneLane[1] + 0.35 }]} stroke={geneColors[1]} strokeWidth={1.2} />
          <ReferenceLine segment={[{ x: 25934, y: geneLane[1] - 0.35 }, { x: 25934, y: geneLane[1] + 0.35 }]} stroke={geneColors[1]} strokeWidth={1.2} />
          <Scatter data={geneLabels} dataKey="y" shape={GeneLabel} isAnimationActive={false} />
        </ComposedChart>
      </div>

      {/* F */}
      <div style={{ position: 'absolute', left: 397, top: 555 }}>
        <ComposedChart width={350} height={184} data={fBoxData} margin={{ top: 14, right: 2, bottom: 0, left: 0 }}>
          <XAxis type="number" dataKey="i" domain={[-0.84, 15.48]} allowDataOverflow ticks={fNames.map((_, i) => i)} interval={0}
            tick={rotTick(fLabels, fNames.map(() => false), 8.3, 8.3)} tickSize={3} tickLine={axisStroke} tickMargin={2} axisLine={axisStroke} height={45} />
          <YAxis type="number" scale="log" domain={[0.01, 10]} allowDataOverflow ticks={[0.01, 0.1, 1, 10]} interval={0}
            width={40} tick={tickStyle} tickSize={4} tickLine={axisStroke} axisLine={axisStroke} />
          <ReferenceArea x1={2.5} x2={13.5} y1={0.01} y2={18} ifOverflow="visible" fill="#e2e2e2" fillOpacity={1} stroke="none" />
          <ReferenceLine y={1} stroke="#111" strokeWidth={2} strokeDasharray="2 2" />
          <Bar dataKey="range" barSize={12} shape={fBoxShape} isAnimationActive={false} />
          <Scatter data={toDots(fDots)} dataKey="v" shape={dotShape('#8a8a8a', 1.4)} isAnimationActive={false} />
          {fStarY.map((s, i) => (s == null ? null : <ReferenceDot key={i} x={i} y={s} r={0} ifOverflow="visible" shape={StarDot} />))}
        </ComposedChart>
      </div>

      <Overlay />
    </div>
  );
}
